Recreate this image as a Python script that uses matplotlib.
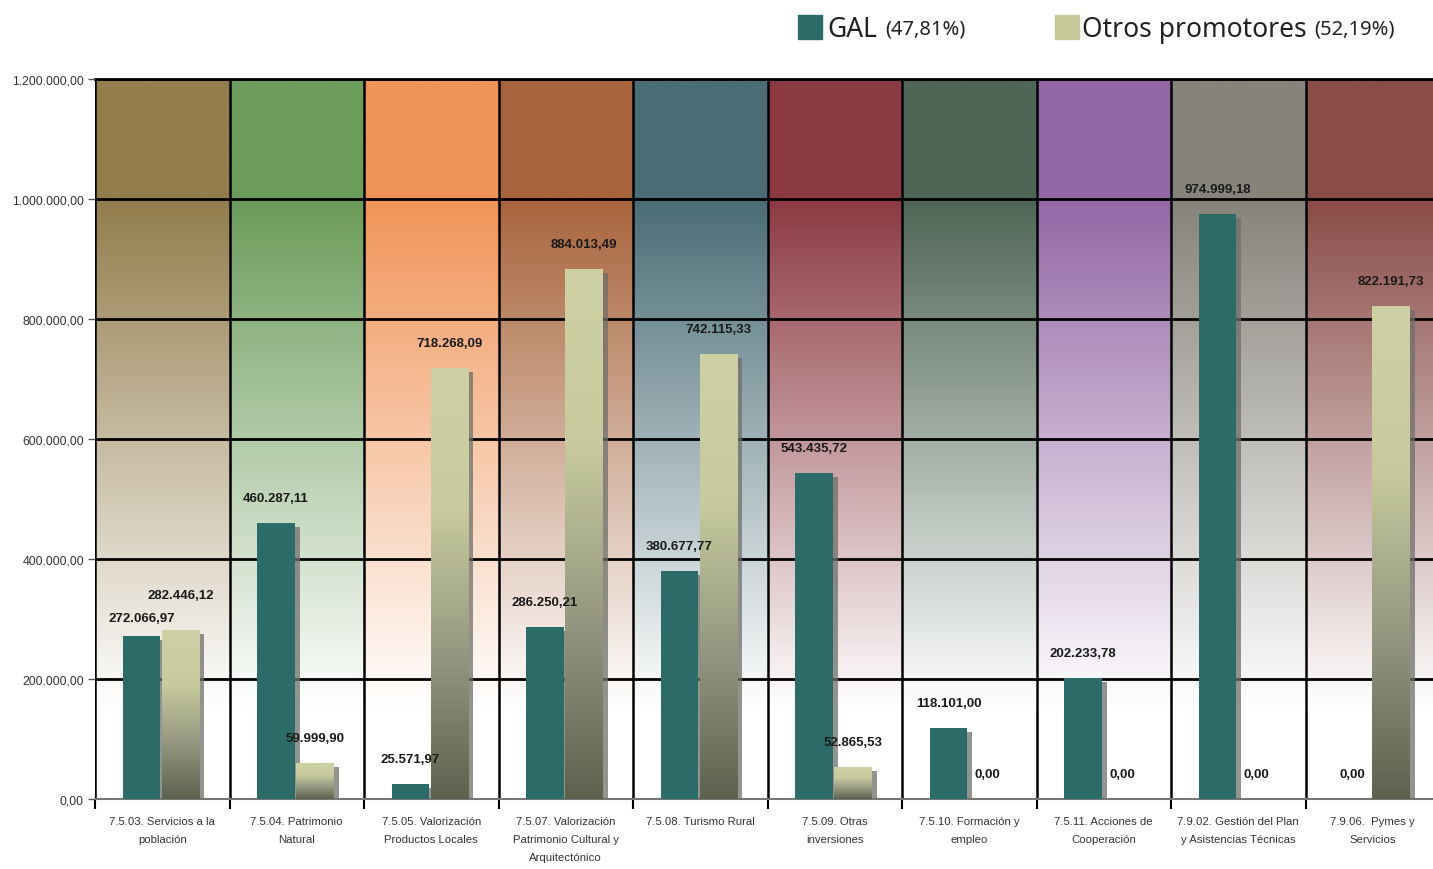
import numpy as np
import matplotlib.pyplot as plt
from matplotlib.colors import to_rgb, LinearSegmentedColormap
from matplotlib.patches import Rectangle

categorias = [
    '7.5.03. Servicios a la\npoblación',
    '7.5.04. Patrimonio\nNatural',
    '7.5.05. Valorización\nProductos Locales',
    '7.5.07. Valorización\nPatrimonio Cultural y\nArquitectónico',
    '7.5.08. Turismo Rural',
    '7.5.09. Otras\ninversiones',
    '7.5.10. Formación y\nempleo',
    '7.5.11. Acciones de\nCooperación',
    '7.9.02. Gestión del Plan\ny Asistencias Técnicas',
    '7.9.06.  Pymes y\nServicios',
]
gal = [272066.97, 460287.11, 25571.97, 286250.21, 380677.77,
       543435.72, 118101.00, 202233.78, 974999.18, 0.00]
otros = [282446.12, 59999.90, 718268.09, 884013.49, 742115.33,
         52865.53, 0.00, 0.00, 0.00, 822191.73]
fondos = ['#937d4c', '#6b9c5a', '#f09458', '#a8643c', '#4a6d76',
          '#8c3a42', '#4f6656', '#9468a6', '#86837a', '#8a4c48']
yticks = np.arange(0, 1200001, 200000)


def fmt_es(v):
    s = f'{v:,.2f}'
    return s.replace(',', 'X').replace('.', ',').replace('X', '.')


fig = plt.figure(figsize=(14.33, 8.7), dpi=100)
ax = fig.add_axes([95 / 1433, 70 / 870, 1345 / 1433, 720 / 870])

x = np.arange(len(categorias))
ymax = 1200000

# fondo degradado de cada categoria
yy = np.linspace(0, ymax, 300)
t = np.clip((yy - 150000) / (1000000 - 150000), 0, 1)[:, None]
for i, c in enumerate(fondos):
    rgb = np.array(to_rgb(c))
    img = (1 - t) * np.ones(3) + t * rgb
    ax.imshow(img[:, None, :], extent=(i - 0.5, i + 0.5, 0, ymax),
              origin='lower', aspect='auto', interpolation='bilinear', zorder=0)

# rejilla
for yv in yticks[1:]:
    ax.axhline(yv, color='black', lw=2, zorder=1)
for b in np.arange(-0.5, len(categorias), 1):
    ax.axvline(b, color='black', lw=1.8, zorder=1)

w = 0.28
xg = x - 0.155
xo = x + 0.135
dx = 0.037

# sombras
g_arr = np.array(gal)
o_arr = np.array(otros)
ax.bar(xg + dx, np.clip(g_arr - 7000, 0, None), w, color='#6f6f6a', alpha=0.75,
       zorder=2.6)
ax.bar(xo + dx, np.clip(o_arr - 7000, 0, None), w, color='#6f6f6a', alpha=0.75,
       zorder=2.6)

ax.bar(xg, gal, w, color='#2b6b68', zorder=3)
barras_o = ax.bar(xo, otros, w, color='none', zorder=3)
cmap = LinearSegmentedColormap.from_list('otros', ['#5c624e', '#959880', '#c6ca9c', '#cdd1a3'])
grad = np.linspace(0, 1, 200)[:, None]
for bar in barras_o:
    h = bar.get_height()
    if h <= 0:
        continue
    x0 = bar.get_x()
    im = ax.imshow(grad, cmap=cmap, extent=(x0, x0 + bar.get_width(), 0, h),
                   origin='lower', aspect='auto', zorder=3)
    im.set_clip_path(bar)

# etiquetas de valores
fuente = ['Liberation Sans', 'DejaVu Sans']
for i in range(len(categorias)):
    off_g, off_o = 18, 18
    if i == 0:
        off_g, off_o = 13, 25
    ax.annotate(fmt_es(gal[i]), (xg[i], gal[i]), xytext=(0, off_g),
                textcoords='offset points', ha='center', va='center',
                fontsize=9.5, fontweight='bold', family=fuente,
                color='#1a1a1a', zorder=4)
    ax.annotate(fmt_es(otros[i]), (xo[i], otros[i]), xytext=(0, off_o),
                textcoords='offset points', ha='center', va='center',
                fontsize=9.5, fontweight='bold', family=fuente,
                color='#1a1a1a', zorder=4)

ax.set_xlim(-0.5, len(categorias) - 0.5)
ax.set_ylim(0, ymax)
ax.set_yticks(yticks)
ax.set_yticklabels([fmt_es(v) for v in yticks], fontsize=8.8, color='#333333',
                   family=fuente)
ax.set_xticks(x)
ax.set_xticklabels(categorias, fontsize=8.2, color='#333333', linespacing=2.05,
                   family=fuente, va='top')
ax.set_xticks(np.arange(-0.5, len(categorias), 1), minor=True)
ax.tick_params(axis='x', which='major', length=0, pad=12)
ax.tick_params(axis='x', which='minor', length=7, width=1.5, color='black')
ax.tick_params(axis='y', length=5, width=1, color='#555555', pad=3)

for s in ['top', 'right', 'left']:
    ax.spines[s].set_visible(False)
ax.spines['bottom'].set_color('#777777')
ax.spines['bottom'].set_linewidth(1.5)
ax.axhline(ymax, color='black', lw=2, zorder=1, clip_on=False)

# leyenda
fig.patches.append(Rectangle((798 / 1433, 1 - 40 / 870), 24 / 1433, 24 / 870,
                             transform=fig.transFigure, color='#2b6b68'))
fig.patches.append(Rectangle((1055 / 1433, 1 - 40 / 870), 24 / 1433, 24 / 870,
                             transform=fig.transFigure, color='#c5c99a'))
ley_y = 1 - 30 / 870
fig.text(827 / 1433, ley_y, 'GAL', fontsize=19, family='Noto Sans',
         color='#222222', va='center')
fig.text(885 / 1433, ley_y, '(47,81%)', fontsize=14.5, family='Noto Sans',
         color='#222222', va='center')
fig.text(1082 / 1433, ley_y, 'Otros promotores', fontsize=19, family='Noto Sans',
         color='#222222', va='center')
fig.text(1314 / 1433, ley_y, '(52,19%)', fontsize=14.5, family='Noto Sans',
         color='#222222', va='center')

fig.savefig('out.png', dpi=100)
